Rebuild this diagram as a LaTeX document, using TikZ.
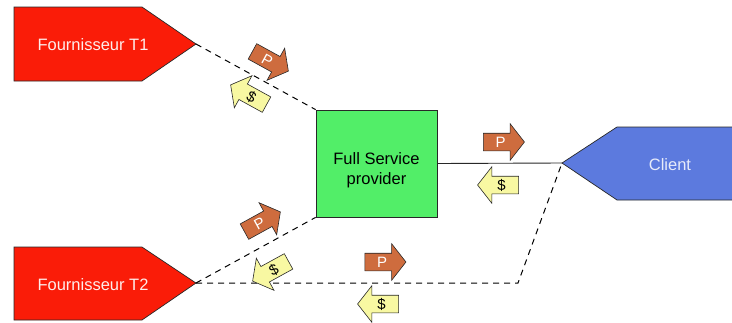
\documentclass[tikz,border=0pt]{standalone}
\usepackage{fontspec}
\setmainfont{Liberation Sans}
\usetikzlibrary{shapes.arrows}
\definecolor{suppred}{RGB}{250,28,8}
\definecolor{fspgreen}{RGB}{82,238,104}
\definecolor{clientblue}{RGB}{92,122,222}
\definecolor{prodbrown}{RGB}{206,108,62}
\definecolor{cashyellow}{RGB}{248,248,162}
\definecolor{edgegray}{RGB}{40,40,40}

\begin{document}
\begin{tikzpicture}[x=1pt,y=-1pt,
  shapeline/.style={draw=edgegray, line width=0.7pt},
  label/.style={font=\fontsize{16.5}{20}\selectfont, align=center},
  flowarrow/.style={single arrow, draw=edgegray, line width=0.6pt,
    minimum height=41pt, single arrow head extend=9.5pt,
    single arrow tip angle=104, inner xsep=2pt, inner ysep=3pt,
    text height=11pt, text depth=0pt, font=\fontsize{15}{15}\selectfont},
  parrow/.style={flowarrow, fill=prodbrown, text=white},
  darrow/.style={flowarrow, fill=cashyellow, text=black, shape border rotate=180},
  dashlink/.style={draw=black, dash pattern=on 6pt off 5pt, line width=1pt},
  solidlink/.style={draw=edgegray, line width=0.9pt}
]
\useasboundingbox (0,0) rectangle (732,322);

% tier-1 supplier
\coordinate (t1tip) at (196,44);
\filldraw[shapeline, fill=suppred] (14,7) -- (142,7) -- (t1tip) -- (142,81) -- (14,81) -- cycle;
\node[label, text=white!92!suppred] (t1) at (93,45) {Fournisseur T1};

% tier-2 supplier
\coordinate (t2tip) at (196,283);
\filldraw[shapeline, fill=suppred] (14,247) -- (142,247) -- (t2tip) -- (142,320) -- (14,320) -- cycle;
\node[label, text=white!92!suppred] (t2) at (93,285) {Fournisseur T2};

% full service provider
\node[shapeline, fill=fspgreen, minimum width=121pt, minimum height=107pt, inner sep=0pt]
  (fsp) at (376.5,163.5) {};
\node[label, text=black] (fsptext) at (376.5,170) {Full Service\\provider};

% client (runs off the right edge)
\coordinate (cltip) at (562,163);
\fill[clientblue] (732,127) -- (617,127) -- (cltip) -- (617,200) -- (732,200) -- cycle;
\draw[shapeline] (732,127) -- (617,127) -- (cltip) -- (617,200) -- (732,200);
\node[label, text=white!85!clientblue] (cl) at (670,165) {Client};

% links
\coordinate (bend) at (518,283);
\draw[dashlink] (t1tip) -- (fsp.north west);
\draw[dashlink] (t2tip) -- (fsp.south west);
\draw[dashlink] (t2tip) -- (bend) -- (cltip);
\draw[solidlink] (fsp.east) -- (cltip);

% product and payment flows
\node[parrow, rotate=-28.8] (p1) at (267.4,59.6) {P};
\node[darrow, rotate=-28.8] (d1) at (251.6,96.4) {\$};
\node[parrow, rotate=28.8] (p2) at (259.4,223.4) {P};
\node[darrow, rotate=28.8] (d2) at (273.6,269.6) {\$};
\node[parrow] (p3) at (500.5,142) {P};
\node[darrow] (d3) at (501.5,185) {\$};
\node[parrow] (p4) at (382,262) {P};
\node[darrow] (d4) at (381.5,304) {\$};
\end{tikzpicture}
\end{document}
